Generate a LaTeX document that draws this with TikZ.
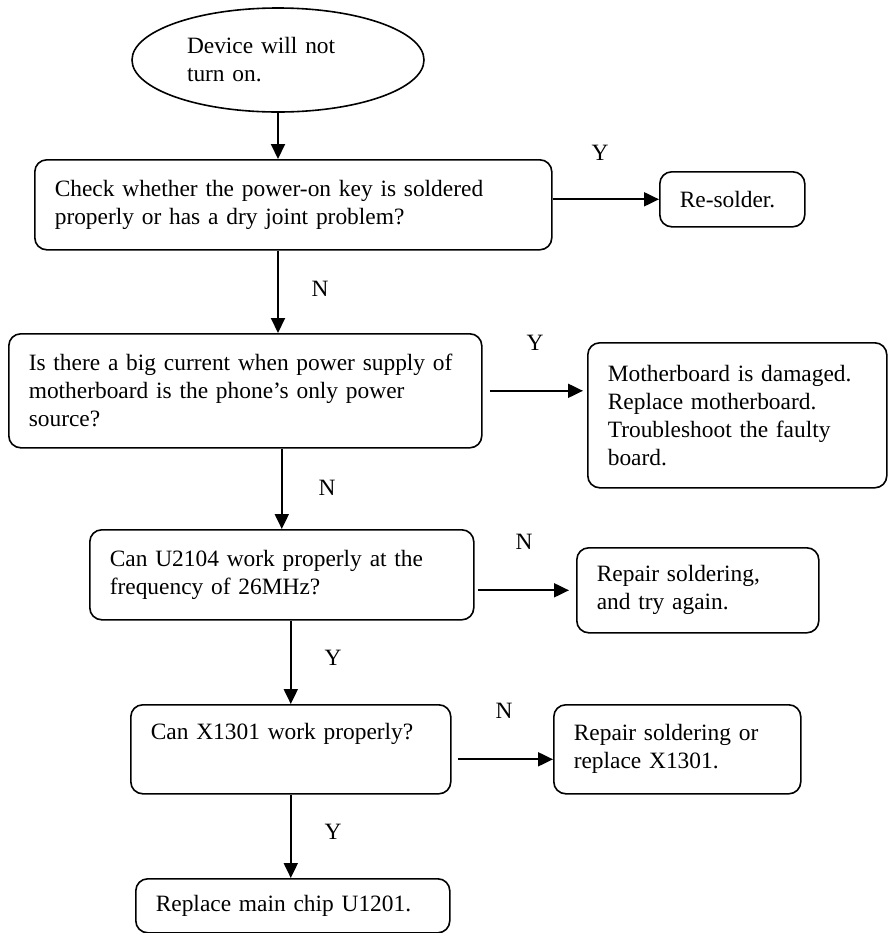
\documentclass[tikz,border=0pt]{standalone}
\usepackage{fontspec}
\setmainfont{Liberation Serif}
\usetikzlibrary{arrows.meta,shapes.geometric}

\begin{document}
\begin{tikzpicture}[x=0.5pt,y=-0.5pt,
  font=\fontsize{11.7}{14}\selectfont,
  box/.style={draw,line width=0.8pt,rounded corners=6pt,anchor=north west,align=left,inner xsep=10pt,inner ysep=2pt},
  arr/.style={line width=1pt,-{Triangle[length=7.5pt,width=7pt]}},
  yn/.style={inner sep=0pt}]
  \useasboundingbox (0,0) rectangle (888,933);
  \node[draw,ellipse,line width=0.8pt,minimum width=146pt,minimum height=52pt,text width=91pt,align=left,inner sep=0pt] (start) at (278,60) {Device will not\\turn on.};
  \node[box,text width=238.5pt,minimum height=45pt] (check) at (34,159) {Check whether the power-on key is soldered\\properly or has a dry joint problem?};
  \node[box,text width=52.5pt,minimum height=27.5pt] (resolder) at (659,171) {Re-solder.};
  \node[box,text width=216.5pt,minimum height=57pt] (current) at (8,333) {Is there a big current when power supply of\\motherboard is the phone's only power\\source?};
  \node[box,text width=129.5pt,minimum height=72.5pt] (board) at (587,342) {Motherboard is damaged.\\Replace motherboard.\\Troubleshoot the faulty\\board.};
  \node[box,text width=172pt,minimum height=45pt] (freq) at (89,529) {Can U2104 work properly at the\\frequency of 26MHz?};
  \node[box,text width=101pt,minimum height=42.5pt] (repair) at (576,547) {Repair soldering,\\and try again.};
  \node[box,text width=140pt,minimum height=44.5pt,text depth=18pt] (x1301) at (130,704) {Can X1301 work properly?};
  \node[box,text width=103.5pt,minimum height=44.5pt] (replace) at (553,704) {Repair soldering or\\replace X1301.};
  \node[box,text width=137pt,minimum height=27pt] (chip) at (135,878) {Replace main chip U1201.};

  \draw[arr] (start.south) -- (start.south |- check.north);
  \draw[arr] (check.east |- resolder.west) -- (resolder.west);
  \draw[arr] (check.south -| start.south) -- (current.north -| start.south);
  \draw[arr,shorten <=3.5pt,shorten >=2pt] (current.east) -- (current.east -| board.west);
  \draw[arr] (current.south -| freq.north) -- (freq.north);
  \draw[arr,shorten <=1.5pt,shorten >=3.5pt] (freq.east |- repair.west) -- (repair.west);
  \draw[arr] (freq.south -| x1301.north) -- (x1301.north);
  \draw[arr,shorten <=3pt] ([yshift=-5pt]x1301.east) -- ([yshift=-5pt]replace.west);
  \draw[arr] (x1301.south) -- (x1301.south |- chip.north);

  \node[yn] (y1) at (600,153) {Y};
  \node[yn] (n1) at (320,289) {N};
  \node[yn] (y2) at (535,343) {Y};
  \node[yn] (n2) at (327,488) {N};
  \node[yn] (n3) at (524,542) {N};
  \node[yn] (y3) at (333,658) {Y};
  \node[yn] (n4) at (504,711) {N};
  \node[yn] (y4) at (333,832) {Y};
\end{tikzpicture}
\end{document}
